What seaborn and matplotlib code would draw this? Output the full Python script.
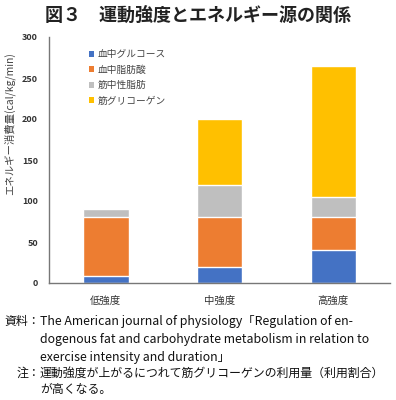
import matplotlib
matplotlib.use("Agg")
import matplotlib.pyplot as plt
from matplotlib.patches import Patch
import numpy as np
import pandas as pd
import seaborn as sns

# ============================================================
# DATOS
# ============================================================
categorias = ["低強度", "中強度", "高強度"]
glucosa = [8, 20, 40]          # 血中グルコース
acidos_grasos = [72, 60, 40]   # 血中脂肪酸
tg_muscular = [10, 40, 25]     # 筋中性脂肪
glucogeno = [0, 80, 160]       # 筋グリコーゲン

series = ["血中グルコース", "血中脂肪酸", "筋中性脂肪", "筋グリコーゲン"]
colores = ["#4472C4", "#ED7D31", "#BFBFBF", "#FFC000"]

# ============================================================
# TABLA CON ACUMULADOS PARA APILAR
# ============================================================
valores = np.array([glucosa, acidos_grasos, tg_muscular, glucogeno])
acumulado = valores.cumsum(axis=0)
df = pd.DataFrame({
    "強度": np.tile(categorias, len(series)),
    "serie": np.repeat(series, len(categorias)),
    "acum": acumulado.ravel(),
})

sns.set_style("white")
plt.rcParams["font.family"] = ["Noto Sans CJK JP", "DejaVu Sans"]

fig = plt.figure(figsize=(3.96, 4.0), dpi=100)
ax = fig.add_axes([0.124, 0.2925, 0.861, 0.615])

# dibujo de la más alta a la más baja (se tapan unas a otras)
for nombre, color in reversed(list(zip(series, colores))):
    sub = df[df["serie"] == nombre]
    sns.barplot(data=sub, x="強度", y="acum", color=color, width=0.4,
                saturation=1, ax=ax, order=categorias)

ax.set_xlim(-0.5, 2.5)
ax.set_ylim(0, 300)
ax.set_yticks(range(0, 301, 50))
ax.set_xlabel("")
ax.set_ylabel("エネルギー消費量(cal/kg/min)", fontsize=7.5, color="#444444")
ax.yaxis.set_label_coords(-0.1, 0.65)
ax.tick_params(axis="both", length=0, colors="#333333")
ax.tick_params(axis="y", labelsize=6.5, pad=8)
ax.tick_params(axis="x", labelsize=7.5, pad=9)
for lbl in ax.get_yticklabels():
    lbl.set_fontweight("bold")

sns.despine(ax=ax)
for s in ["left", "bottom"]:
    ax.spines[s].set_color("#777777")
    ax.spines[s].set_linewidth(1.0)

handles = [Patch(facecolor=c, edgecolor="none") for c in colores]
ax.legend(handles, series, loc="upper left", bbox_to_anchor=(0.09, 0.985),
          frameon=False, fontsize=7, handlelength=0.6, handleheight=0.6,
          handletextpad=0.3, labelspacing=0.55, labelcolor="#444444")

# título
fig.text(0.5, 0.962, "図３　運動強度とエネルギー源の関係", ha="center", va="center",
         fontsize=13, fontweight="bold", color="#222222")

# notas al pie
x_cuerpo = 0.101
fs_en = 8.9
fs_ja = 8.6
fig.text(x_cuerpo, 0.195, "資料：", ha="right", va="center", fontsize=fs_ja, color="#111111")
fig.text(x_cuerpo, 0.195, "The American journal of physiology「Regulation of en-",
         ha="left", va="center", fontsize=fs_en, color="#111111")
fig.text(x_cuerpo, 0.150, "dogenous fat and carbohydrate metabolism in relation to",
         ha="left", va="center", fontsize=fs_en, color="#111111")
fig.text(x_cuerpo, 0.107, "exercise intensity and duration」",
         ha="left", va="center", fontsize=fs_en, color="#111111")
fig.text(x_cuerpo, 0.067, "注：", ha="right", va="center", fontsize=fs_ja, color="#111111")
fig.text(x_cuerpo, 0.067, "運動強度が上がるにつれて筋グリコーゲンの利用量（利用割合）",
         ha="left", va="center", fontsize=fs_ja, color="#111111")
fig.text(x_cuerpo, 0.027, "が高くなる。", ha="left", va="center", fontsize=fs_ja, color="#111111")

fig.savefig("out.png", dpi=100)
